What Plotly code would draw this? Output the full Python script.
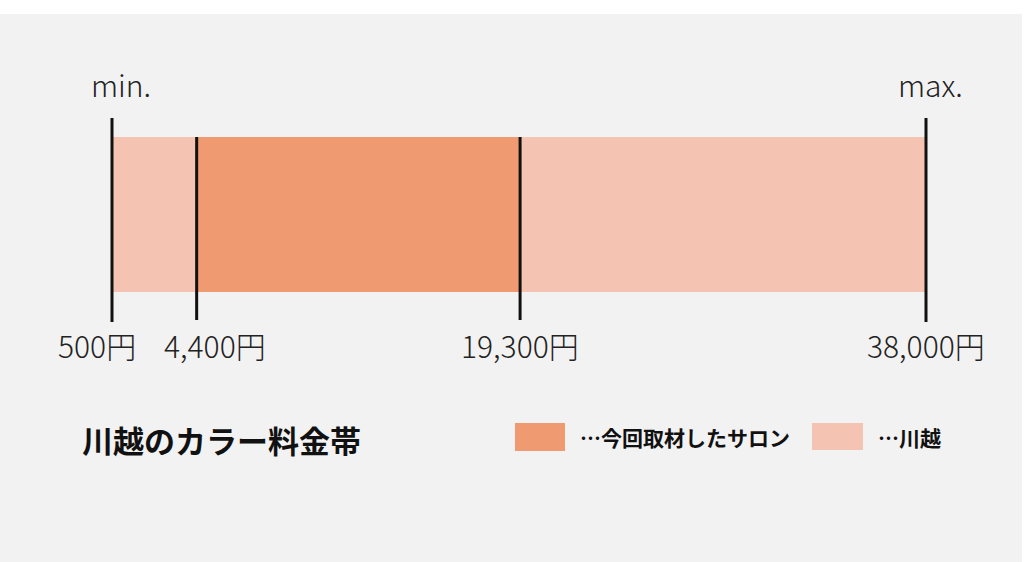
import plotly.graph_objects as go

# price band of Kawagoe hair colour (yen)
area_min = 500
area_max = 38000
salon_low = 4400
salon_high = 19300

price_points = [area_min, salon_low, salon_high, area_max]
price_labels = ["500円", "4,400円", "19,300円", "38,000円"]
label_shift = [-15, 18, 0, 0]
end_labels = ["min.", "max."]

title_text = "川越のカラー料金帯"
legend_names = ["…今回取材したサロン", "…川越"]

DARK = "#f09a71"
LIGHT = "#f5c3b2"
BG = "#f2f2f2"
FONT = "Noto Sans CJK JP"

W, H = 1024, 562
BAR_Y = 214.5
BAR_H = 155

fig = go.Figure()

# whole area range
fig.add_trace(go.Bar(
    orientation="h",
    y=[BAR_Y],
    x=[area_max - area_min],
    base=[area_min],
    width=BAR_H,
    marker=dict(color=LIGHT, line=dict(width=0)),
    showlegend=False,
    hoverinfo="skip"
))

# salons in this article
fig.add_trace(go.Bar(
    orientation="h",
    y=[BAR_Y],
    x=[salon_high - salon_low],
    base=[salon_low],
    width=BAR_H,
    marker=dict(color=DARK, line=dict(width=0)),
    showlegend=False,
    hoverinfo="skip"
))

# boundary lines
for i, v in enumerate(price_points):
    if v in (area_min, area_max):
        ys = [118, 322]
    else:
        ys = [137, 320]
    fig.add_trace(go.Scatter(
        x=[v, v],
        y=ys,
        mode="lines",
        line=dict(color="#111111", width=3),
        showlegend=False,
        hoverinfo="skip"
    ))

annotations = []

# price labels under the bar
for v, txt, dx in zip(price_points, price_labels, label_shift):
    annotations.append(dict(
        x=v, y=345, xref="x", yref="y",
        text=txt, showarrow=False, xshift=dx,
        xanchor="center", yanchor="middle",
        font=dict(family=FONT, size=30, color="#222222", weight=300)
    ))

# min / max on top
for v, txt, dx in zip([area_min, area_max], end_labels, [9, 4]):
    annotations.append(dict(
        x=v, y=84, xref="x", yref="y",
        text=txt, showarrow=False, xshift=dx,
        xanchor="center", yanchor="middle",
        font=dict(family=FONT, size=30, color="#222222", weight=300)
    ))

# title
annotations.append(dict(
    x=80 / W, y=1 - 439 / H, xref="paper", yref="paper",
    text=title_text, showarrow=False,
    xanchor="left", yanchor="middle",
    font=dict(family=FONT, size=31, color="#111111", weight="bold")
))

# legend texts
for px, txt in zip([578, 876], legend_names):
    annotations.append(dict(
        x=px / W, y=1 - 437 / H, xref="paper", yref="paper",
        text=txt, showarrow=False,
        xanchor="left", yanchor="middle",
        font=dict(family=FONT, size=21, color="#111111", weight="bold")
    ))

shapes = [
    # grey card
    dict(type="rect", xref="paper", yref="paper",
         x0=0, x1=1022 / W, y0=0, y1=1 - 14 / H,
         fillcolor=BG, line=dict(width=0), layer="below"),
    # legend swatches
    dict(type="rect", xref="paper", yref="paper",
         x0=515 / W, x1=565 / W, y0=1 - 451 / H, y1=1 - 423 / H,
         fillcolor=DARK, line=dict(width=0)),
    dict(type="rect", xref="paper", yref="paper",
         x0=812 / W, x1=863 / W, y0=1 - 450 / H, y1=1 - 423 / H,
         fillcolor=LIGHT, line=dict(width=0)),
]

# x scale: 500 -> px 112, 38000 -> px 926
px_per_yen = (926 - 112) / (area_max - area_min)
x_lo = area_min - 112 / px_per_yen
x_hi = area_min + (W - 112) / px_per_yen

fig.update_layout(
    width=W,
    height=H,
    margin=dict(l=0, r=0, t=0, b=0),
    paper_bgcolor="white",
    plot_bgcolor="rgba(0,0,0,0)",
    barmode="overlay",
    xaxis=dict(range=[x_lo, x_hi], visible=False, fixedrange=True),
    yaxis=dict(range=[H, 0], visible=False, fixedrange=True),
    annotations=annotations,
    shapes=shapes,
    showlegend=False
)

# drop the browser's default body margin so the figure sits at 0,0
fig.write_html(
    "out.html",
    config={"displayModeBar": False},
    post_script="document.body.style.margin='0';document.body.style.overflow='hidden';"
)
